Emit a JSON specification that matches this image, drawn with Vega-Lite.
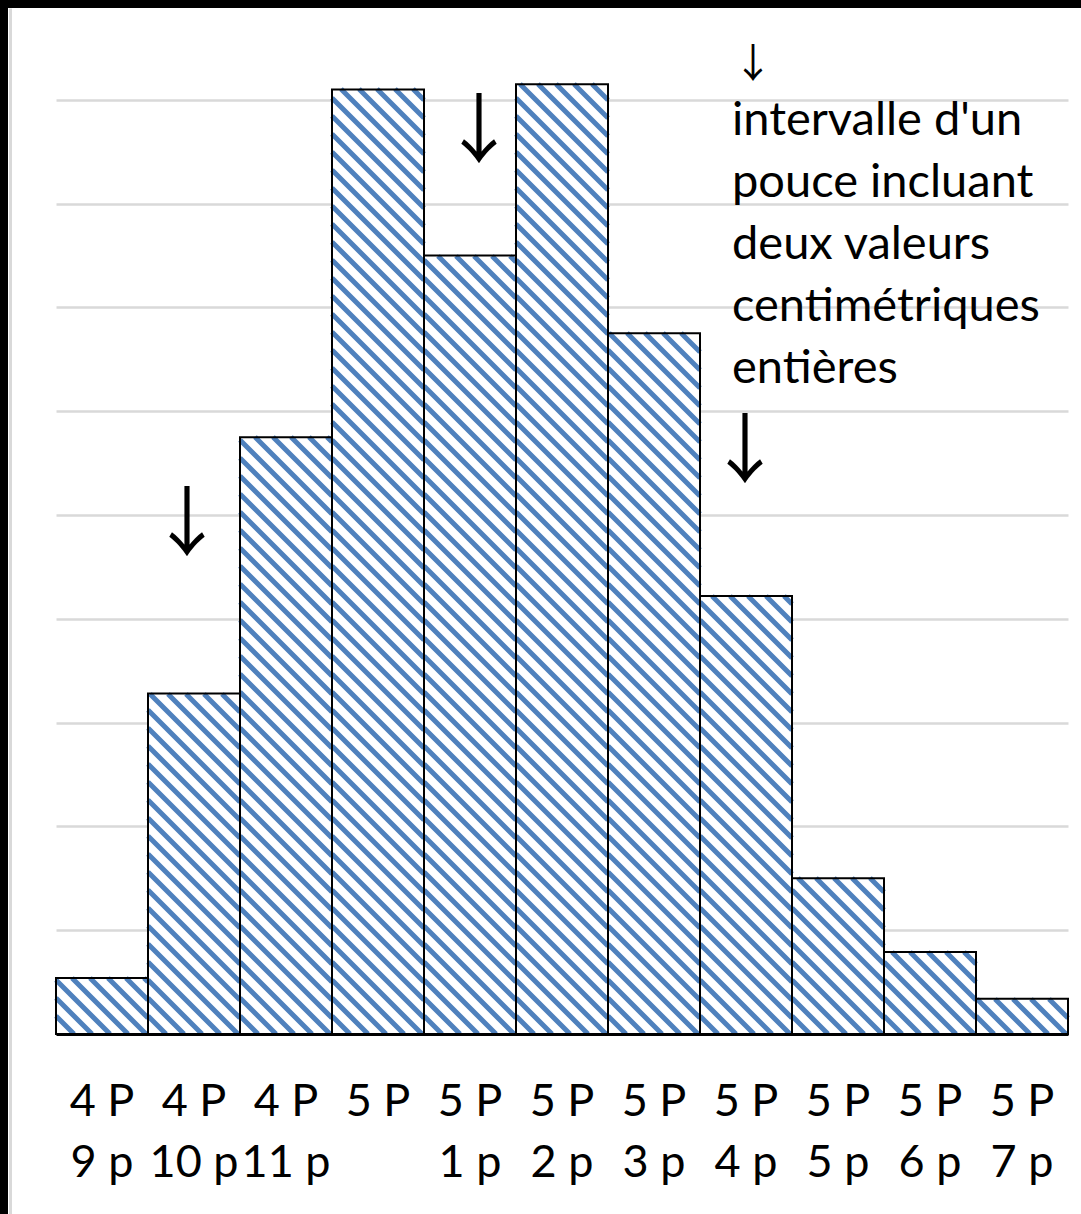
{
  "$schema": "https://vega.github.io/schema/vega-lite/v6.json",
  "width": 1073,
  "height": 1206,
  "autosize": {"type": "none"},
  "padding": {"left": 8, "top": 8, "right": 0, "bottom": 0},
  "background": "#000000",
  "config": {"view": {"fill": "#ffffff", "stroke": null}, "font": "Lato"},
  "datasets": {
    "bars": [
      {"cat": "4 P\n9 p", "v": 5.4},
      {"cat": "4 P\n10 p", "v": 32.8},
      {"cat": "4 P\n11 p", "v": 57.5},
      {"cat": "5 P", "v": 91.0},
      {"cat": "5 P\n1 p", "v": 75.0},
      {"cat": "5 P\n2 p", "v": 91.5},
      {"cat": "5 P\n3 p", "v": 67.5},
      {"cat": "5 P\n4 p", "v": 42.2},
      {"cat": "5 P\n5 p", "v": 15.0},
      {"cat": "5 P\n6 p", "v": 7.9},
      {"cat": "5 P\n7 p", "v": 3.4}
    ],
    "notes": [
      {"cat": "5 P\n4 p", "y": 86.6, "t": "intervalle d'un\npouce incluant\ndeux valeurs\ncentimétriques\nentières"}
    ],
    "arrowA": [{"cat": "4 P\n10 p", "y": 48.8, "t": "↓"}],
    "arrowB": [{"cat": "5 P\n1 p", "y": 86.7, "t": "↓"}],
    "arrowC": [{"cat": "5 P\n4 p", "y": 55.9, "t": "↓"}],
    "arrowSmall": [{"cat": "5 P\n4 p", "y": 93.4, "t": "↓"}]
  },
  "layer": [
    {
      "data": {"name": "bars"},
      "mark": {"type": "bar", "fill": "#ffffff", "strokeWidth": 0},
      "encoding": {
        "x": {
          "field": "cat", "type": "nominal", "sort": null,
          "scale": {
            "domain": ["4 P\n9 p", "4 P\n10 p", "4 P\n11 p", "5 P", "5 P\n1 p", "5 P\n2 p", "5 P\n3 p", "5 P\n4 p", "5 P\n5 p", "5 P\n6 p", "5 P\n7 p"],
            "range": [48, 1060], "paddingInner": 0, "paddingOuter": 0
          },
          "axis": {
            "orient": "bottom", "offset": -180, "title": null,
            "domain": true, "domainColor": "#000000", "domainWidth": 3,
            "ticks": false, "tickSize": 0,
            "labelExpr": "split(datum.label, '\\n')",
            "labelFont": "Lato", "labelFontSize": 45, "labelColor": "#000000",
            "labelLineHeight": 61, "labelPadding": 45, "labelOverlap": false,
            "labelAngle": 0, "labelBaseline": "top", "labelLimit": 0,
            "grid": false, "zindex": 1
          }
        },
        "y": {
          "field": "v", "type": "quantitative",
          "scale": {"domain": [-17.341, 98.844], "nice": false, "zero": false},
          "axis": {
            "orient": "left", "offset": -2, "title": null,
            "values": [10, 20, 30, 40, 50, 60, 70, 80, 90],
            "labels": false, "ticks": false,
            "domain": true, "domainColor": "#d9d9d9", "domainWidth": 3,
            "grid": true, "gridColor": "#d9d9d9", "gridWidth": 2.5, "zindex": 0
          }
        }
      }
    },
    {
      "data": {"name": "bars"},
      "mark": {"type": "point", "filled": false, "stroke": "#4f81bd", "strokeWidth": 5, "size": 4, "opacity": 1, "strokeCap": "butt"},
      "encoding": {
        "x": {"field": "cat", "type": "nominal", "sort": null},
        "y": {"datum": 0, "type": "quantitative"},
        "shape": {
          "field": "cat", "type": "nominal", "legend": null,
          "scale": {
            "domain": ["4 P\n9 p", "4 P\n10 p", "4 P\n11 p", "5 P", "5 P\n1 p", "5 P\n2 p", "5 P\n3 p", "5 P\n4 p", "5 P\n5 p", "5 P\n6 p", "5 P\n7 p"],
            "range": [
              "M-46,-18l18,18M-46,-36l36,36M-46,-54l54,54M-30,-56l56,56M-12,-56l56,56M6,-56l40,40M24,-56l22,22M42,-56l4,4",
              "M-46,-18l18,18M-46,-36l36,36M-46,-54l54,54M-46,-72l72,72M-46,-90l90,90M-46,-108l92,92m-92,-110l92,92m-92,-110l92,92m-92,-110l92,92m-92,-110l92,92m-92,-110l92,92m-92,-110l92,92m-92,-110l92,92m-92,-110l92,92m-92,-110l92,92m-92,-110l92,92m-92,-110l92,92m-92,-110l92,92M-44,-340l90,90M-26,-340l72,72M-8,-340l54,54M10,-340l36,36M28,-340l18,18",
              "M-46,-18l18,18M-46,-36l36,36M-46,-54l54,54M-46,-72l72,72M-46,-90l90,90M-46,-108l92,92m-92,-110l92,92m-92,-110l92,92m-92,-110l92,92m-92,-110l92,92m-92,-110l92,92m-92,-110l92,92m-92,-110l92,92m-92,-110l92,92m-92,-110l92,92m-92,-110l92,92m-92,-110l92,92m-92,-110l92,92m-92,-110l92,92m-92,-110l92,92m-92,-110l92,92m-92,-110l92,92m-92,-110l92,92m-92,-110l92,92m-92,-110l92,92m-92,-110l92,92m-92,-110l92,92m-92,-110l92,92m-92,-110l92,92m-92,-110l92,92m-92,-110l92,92m-92,-110l92,92m-92,-110l92,92M-31,-597l77,77M-13,-597l59,59M5,-597l41,41M23,-597l23,23M41,-597l5,5",
              "M-46,-18l18,18M-46,-36l36,36M-46,-54l54,54M-46,-72l72,72M-46,-90l90,90M-46,-108l92,92m-92,-110l92,92m-92,-110l92,92m-92,-110l92,92m-92,-110l92,92m-92,-110l92,92m-92,-110l92,92m-92,-110l92,92m-92,-110l92,92m-92,-110l92,92m-92,-110l92,92m-92,-110l92,92m-92,-110l92,92m-92,-110l92,92m-92,-110l92,92m-92,-110l92,92m-92,-110l92,92m-92,-110l92,92m-92,-110l92,92m-92,-110l92,92m-92,-110l92,92m-92,-110l92,92m-92,-110l92,92m-92,-110l92,92m-92,-110l92,92m-92,-110l92,92m-92,-110l92,92m-92,-110l92,92m-92,-110l92,92m-92,-110l92,92m-92,-110l92,92m-92,-110l92,92m-92,-110l92,92m-92,-110l92,92m-92,-110l92,92m-92,-110l92,92m-92,-110l92,92m-92,-110l92,92m-92,-110l92,92m-92,-110l92,92m-92,-110l92,92m-92,-110l92,92m-92,-110l92,92m-92,-110l92,92m-92,-110l92,92m-92,-110l92,92m-92,-110l92,92M-37,-945l83,83M-19,-945l65,65M-1,-945l47,47M17,-945l29,29M35,-945l11,11",
              "M-46,-18l18,18M-46,-36l36,36M-46,-54l54,54M-46,-72l72,72M-46,-90l90,90M-46,-108l92,92m-92,-110l92,92m-92,-110l92,92m-92,-110l92,92m-92,-110l92,92m-92,-110l92,92m-92,-110l92,92m-92,-110l92,92m-92,-110l92,92m-92,-110l92,92m-92,-110l92,92m-92,-110l92,92m-92,-110l92,92m-92,-110l92,92m-92,-110l92,92m-92,-110l92,92m-92,-110l92,92m-92,-110l92,92m-92,-110l92,92m-92,-110l92,92m-92,-110l92,92m-92,-110l92,92m-92,-110l92,92m-92,-110l92,92m-92,-110l92,92m-92,-110l92,92m-92,-110l92,92m-92,-110l92,92m-92,-110l92,92m-92,-110l92,92m-92,-110l92,92m-92,-110l92,92m-92,-110l92,92m-92,-110l92,92m-92,-110l92,92m-92,-110l92,92m-92,-110l92,92m-92,-110l92,92M-32,-778l78,78M-14,-778l60,60M4,-778l42,42M22,-778l24,24M40,-778l6,6",
              "M-46,-18l18,18M-46,-36l36,36M-46,-54l54,54M-46,-72l72,72M-46,-90l90,90M-46,-108l92,92m-92,-110l92,92m-92,-110l92,92m-92,-110l92,92m-92,-110l92,92m-92,-110l92,92m-92,-110l92,92m-92,-110l92,92m-92,-110l92,92m-92,-110l92,92m-92,-110l92,92m-92,-110l92,92m-92,-110l92,92m-92,-110l92,92m-92,-110l92,92m-92,-110l92,92m-92,-110l92,92m-92,-110l92,92m-92,-110l92,92m-92,-110l92,92m-92,-110l92,92m-92,-110l92,92m-92,-110l92,92m-92,-110l92,92m-92,-110l92,92m-92,-110l92,92m-92,-110l92,92m-92,-110l92,92m-92,-110l92,92m-92,-110l92,92m-92,-110l92,92m-92,-110l92,92m-92,-110l92,92m-92,-110l92,92m-92,-110l92,92m-92,-110l92,92m-92,-110l92,92m-92,-110l92,92m-92,-110l92,92m-92,-110l92,92m-92,-110l92,92m-92,-110l92,92m-92,-110l92,92m-92,-110l92,92m-92,-110l92,92m-92,-110l92,92m-92,-110l92,92M-42,-950l88,88M-24,-950l70,70M-6,-950l52,52M12,-950l34,34M30,-950l16,16",
              "M-46,-18l18,18M-46,-36l36,36M-46,-54l54,54M-46,-72l72,72M-46,-90l90,90M-46,-108l92,92m-92,-110l92,92m-92,-110l92,92m-92,-110l92,92m-92,-110l92,92m-92,-110l92,92m-92,-110l92,92m-92,-110l92,92m-92,-110l92,92m-92,-110l92,92m-92,-110l92,92m-92,-110l92,92m-92,-110l92,92m-92,-110l92,92m-92,-110l92,92m-92,-110l92,92m-92,-110l92,92m-92,-110l92,92m-92,-110l92,92m-92,-110l92,92m-92,-110l92,92m-92,-110l92,92m-92,-110l92,92m-92,-110l92,92m-92,-110l92,92m-92,-110l92,92m-92,-110l92,92m-92,-110l92,92m-92,-110l92,92m-92,-110l92,92m-92,-110l92,92m-92,-110l92,92m-92,-110l92,92M-45,-701l91,91M-27,-701l73,73M-9,-701l55,55M9,-701l37,37M27,-701l19,19",
              "M-46,-18l18,18M-46,-36l36,36M-46,-54l54,54M-46,-72l72,72M-46,-90l90,90M-46,-108l92,92m-92,-110l92,92m-92,-110l92,92m-92,-110l92,92m-92,-110l92,92m-92,-110l92,92m-92,-110l92,92m-92,-110l92,92m-92,-110l92,92m-92,-110l92,92m-92,-110l92,92m-92,-110l92,92m-92,-110l92,92m-92,-110l92,92m-92,-110l92,92m-92,-110l92,92m-92,-110l92,92m-92,-110l92,92m-92,-110l92,92M-34,-438l80,80M-16,-438l62,62M2,-438l44,44M20,-438l26,26M38,-438l8,8",
              "M-46,-18l18,18M-46,-36l36,36M-46,-54l54,54M-46,-72l72,72M-46,-90l90,90M-46,-108l92,92m-92,-110l92,92m-92,-110l92,92M-40,-156l86,86M-22,-156l68,68M-4,-156l50,50M14,-156l32,32M32,-156l14,14",
              "M-46,-18l18,18M-46,-36l36,36M-46,-54l54,54M-46,-72l72,72M-38,-82l82,82M-20,-82l66,66M-2,-82l48,48M16,-82l30,30M34,-82l12,12",
              "M-46,-18l18,18M-45,-35l35,35M-27,-35l35,35M-9,-35l35,35M9,-35l35,35M27,-35l19,19"
            ]
          }
        }
      }
    },
    {
      "data": {"name": "bars"},
      "mark": {"type": "bar", "fill": "transparent", "stroke": "#000000", "strokeWidth": 2},
      "encoding": {
        "x": {"field": "cat", "type": "nominal", "sort": null},
        "y": {"field": "v", "type": "quantitative"}
      }
    },
    {
      "data": {"name": "notes"},
      "mark": {"type": "text", "font": "Lato", "fontSize": 47, "align": "left", "baseline": "alphabetic", "dx": -14, "lineBreak": "\n", "lineHeight": 62, "color": "#000000"},
      "encoding": {
        "x": {"field": "cat", "type": "nominal", "sort": null},
        "y": {"field": "y", "type": "quantitative"},
        "text": {"field": "t"}
      }
    },
    {
      "data": {"name": "arrowA"},
      "mark": {"type": "text", "font": "Noto Sans CJK JP", "fontSize": 76, "align": "center", "baseline": "middle", "dx": -7, "color": "#000000"},
      "encoding": {
        "x": {"field": "cat", "type": "nominal", "sort": null},
        "y": {"field": "y", "type": "quantitative"},
        "text": {"field": "t"}
      }
    },
    {
      "data": {"name": "arrowB"},
      "mark": {"type": "text", "font": "Noto Sans CJK JP", "fontSize": 76, "align": "center", "baseline": "middle", "dx": 9, "color": "#000000"},
      "encoding": {
        "x": {"field": "cat", "type": "nominal", "sort": null},
        "y": {"field": "y", "type": "quantitative"},
        "text": {"field": "t"}
      }
    },
    {
      "data": {"name": "arrowC"},
      "mark": {"type": "text", "font": "Noto Sans CJK JP", "fontSize": 76, "align": "center", "baseline": "middle", "dx": -1, "color": "#000000"},
      "encoding": {
        "x": {"field": "cat", "type": "nominal", "sort": null},
        "y": {"field": "y", "type": "quantitative"},
        "text": {"field": "t"}
      }
    },
    {
      "data": {"name": "arrowSmall"},
      "mark": {"type": "text", "font": "Noto Sans CJK JP", "fontSize": 40, "align": "center", "baseline": "middle", "dx": 7, "color": "#000000"},
      "encoding": {
        "x": {"field": "cat", "type": "nominal", "sort": null},
        "y": {"field": "y", "type": "quantitative"},
        "text": {"field": "t"}
      }
    }
  ]
}
